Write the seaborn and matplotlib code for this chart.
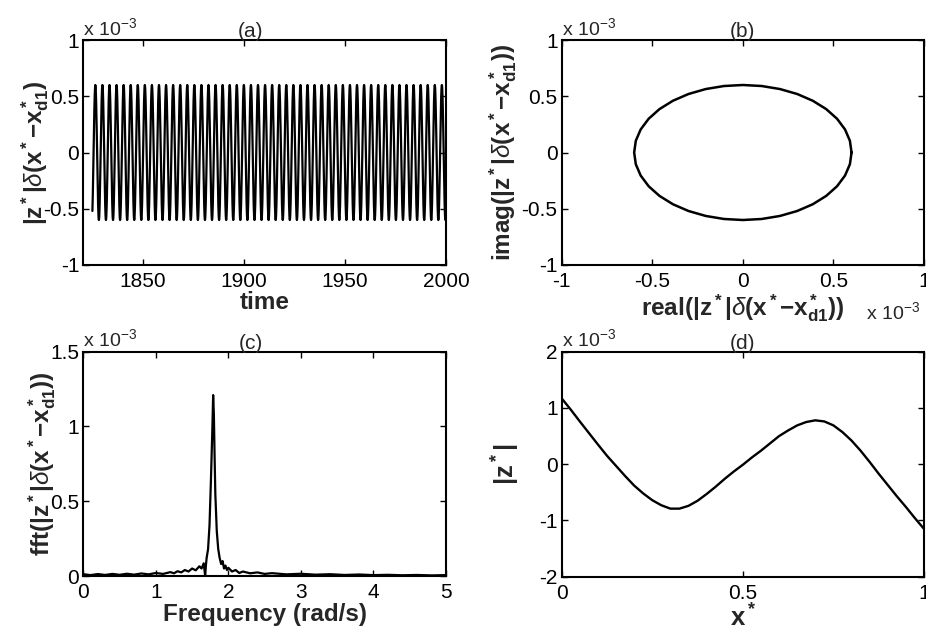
import numpy as np
import pandas as pd
import matplotlib
matplotlib.use("Agg")
import matplotlib.pyplot as plt
import seaborn as sns

# ---------------- data (values in units of 1e-3 where noted) ----------------
SCALE_LABEL = r"x 10$^{\mathregular{-3}}$"

# one period of the steady-state oscillation (a)/(b) (x 1e-3), 10-degree steps
cycle_real = [0.600, 0.591, 0.564, 0.520, 0.460, 0.386, 0.300, 0.205, 0.104,
              0.000, -0.104, -0.205, -0.300, -0.386, -0.460, -0.520, -0.564, -0.591,
              -0.600, -0.591, -0.564, -0.520, -0.460, -0.386, -0.300, -0.205, -0.104,
              0.000, 0.104, 0.205, 0.300, 0.386, 0.460, 0.520, 0.564, 0.591]
cycle_imag = [0.000, 0.104, 0.205, 0.300, 0.386, 0.460, 0.520, 0.564, 0.591,
              0.600, 0.591, 0.564, 0.520, 0.460, 0.386, 0.300, 0.205, 0.104,
              0.000, -0.104, -0.205, -0.300, -0.386, -0.460, -0.520, -0.564, -0.591,
              -0.600, -0.591, -0.564, -0.520, -0.460, -0.386, -0.300, -0.205, -0.104]
t_start = 1825.0
t_end = 2000.0
n_cycles = 50
start_index = 21          # the trace begins near -0.5 and rising

# panel (c): spectrum (x 1e-3)
freq_c = [0.0, 0.1, 0.2, 0.3, 0.4, 0.5, 0.6, 0.7, 0.8, 0.9, 1.0, 1.1, 1.2, 1.25, 1.3, 1.35, 1.4, 1.45,
          1.5, 1.55, 1.6, 1.63, 1.66, 1.68, 1.69, 1.7, 1.72, 1.74, 1.76, 1.78, 1.79, 1.80, 1.81, 1.82,
          1.84, 1.86, 1.88, 1.9, 1.92, 1.94, 1.96, 1.98, 2.0, 2.05, 2.1, 2.15, 2.2, 2.3, 2.4, 2.5, 2.6,
          2.8, 3.0, 3.2, 3.4, 3.6, 3.8, 4.0, 4.2, 4.4, 4.6, 4.8, 5.0]
fft_c = [0.012, 0.006, 0.013, 0.007, 0.014, 0.008, 0.015, 0.009, 0.017, 0.011, 0.020, 0.014, 0.026,
         0.018, 0.032, 0.024, 0.040, 0.030, 0.050, 0.038, 0.065, 0.050, 0.085, 0.000, 0.070, 0.120,
         0.180, 0.340, 0.650, 1.000, 1.210, 1.080, 0.800, 0.550, 0.300, 0.180, 0.120, 0.080, 0.100,
         0.050, 0.070, 0.040, 0.055, 0.030, 0.040, 0.020, 0.030, 0.018, 0.024, 0.014, 0.019, 0.011,
         0.015, 0.009, 0.012, 0.007, 0.010, 0.006, 0.008, 0.005, 0.007, 0.004, 0.006]

# panel (d): |z*| along x* (x 1e-3)
x_d = [0.0, 0.025, 0.05, 0.075, 0.10, 0.125, 0.15, 0.175, 0.20, 0.225, 0.25, 0.275, 0.30, 0.325,
       0.35, 0.375, 0.40, 0.425, 0.45, 0.475, 0.50, 0.525, 0.55, 0.575, 0.60, 0.625, 0.65, 0.675,
       0.70, 0.725, 0.75, 0.775, 0.80, 0.825, 0.85, 0.875, 0.90, 0.925, 0.95, 0.975, 1.0]
z_d = [1.17, 0.97, 0.76, 0.555, 0.35, 0.15, -0.03, -0.21, -0.38, -0.52, -0.64, -0.73, -0.79, -0.79,
       -0.74, -0.65, -0.53, -0.40, -0.26, -0.13, -0.01, 0.12, 0.24, 0.37, 0.50, 0.60, 0.69, 0.75,
       0.78, 0.76, 0.69, 0.57, 0.42, 0.24, 0.04, -0.17, -0.37, -0.57, -0.76, -0.96, -1.15]

# ---------------- build tables ----------------
rolled = cycle_real[start_index:] + cycle_real[:start_index]
y_a = np.array(rolled * n_cycles + [rolled[0]])
t_a = np.linspace(t_start, t_end, len(y_a))
df_a = pd.DataFrame({"t": t_a, "v": y_a})
df_b = pd.DataFrame({"re": cycle_real + [cycle_real[0]], "im": cycle_imag + [cycle_imag[0]]})
df_c = pd.DataFrame({"f": freq_c, "a": fft_c})
df_d = pd.DataFrame({"x": x_d, "z": z_d})

# ---------------- style ----------------
sns.set_theme(style="ticks")
plt.rcParams["font.family"] = ["Liberation Sans", "DejaVu Sans"]
plt.rcParams["mathtext.fontset"] = "custom"
plt.rcParams["mathtext.rm"] = "Liberation Sans"
plt.rcParams["mathtext.it"] = "Liberation Sans:italic"
plt.rcParams["mathtext.bf"] = "Liberation Sans:bold"
plt.rcParams["axes.unicode_minus"] = False
plt.rcParams["axes.linewidth"] = 1.5
plt.rcParams["axes.edgecolor"] = "black"

TICK = 15
LAB = 17.5
TIT = 15
OFF = 14

fig = plt.figure(figsize=(9.26, 6.32), dpi=100)
W, H = 926.0, 632.0


def make_ax(l, r, t, b):
    return fig.add_axes([l / W, 1 - b / H, (r - l) / W, (b - t) / H])


ax_a = make_ax(83.3, 446, 40, 265)
ax_b = make_ax(561.7, 924, 40, 265)
ax_c = make_ax(83.3, 446, 351.7, 576)
ax_d = make_ax(561.7, 924, 351.7, 576.7)

sns.lineplot(data=df_a, x="t", y="v", ax=ax_a, color="black", lw=1.6, estimator=None, sort=False)
sns.lineplot(data=df_b, x="re", y="im", ax=ax_b, color="black", lw=1.8, estimator=None, sort=False)
sns.lineplot(data=df_c, x="f", y="a", ax=ax_c, color="black", lw=1.6, estimator=None, sort=False)
sns.lineplot(data=df_d, x="x", y="z", ax=ax_d, color="black", lw=1.7, estimator=None, sort=False)

ylab_a = r"$\mathregular{|z^*|}\delta\mathregular{(x^*{-}x^*_{d1})}$"
ylab_b = r"$\mathregular{imag(|z^*|}\delta\mathregular{(x^*{-}x^*_{d1}))}$"
xlab_b = r"$\mathregular{real(|z^*|}\delta\mathregular{(x^*{-}x^*_{d1}))}$"
ylab_c = r"$\mathregular{fft(|z^*|}\delta\mathregular{(x^*{-}x^*_{d1}))}$"
LW = "bold"
LEFT_TITLE_X = 0.462

ax_a.set_xlim(1820.5, 2000)
ax_a.set_ylim(-1, 1)
ax_a.set_xticks([1850, 1900, 1950, 2000])
ax_a.set_yticks([-1, -0.5, 0, 0.5, 1])
ax_a.set_yticklabels(["-1", "-0.5", "0", "0.5", "1"])
ax_a.set_xlabel("time", fontsize=LAB, fontweight=LW, labelpad=0)
ax_a.set_ylabel(ylab_a, fontsize=LAB, fontweight=LW, labelpad=-6)
ax_a.set_title("(a)", fontsize=TIT, pad=2, x=LEFT_TITLE_X)

ax_b.set_xlim(-1, 1)
ax_b.set_ylim(-1, 1)
ax_b.set_xticks([-1, -0.5, 0, 0.5, 1])
ax_b.set_xticklabels(["-1", "-0.5", "0", "0.5", "1"])
ax_b.set_yticks([-1, -0.5, 0, 0.5, 1])
ax_b.set_yticklabels(["-1", "-0.5", "0", "0.5", "1"])
ax_b.set_xlabel(xlab_b, fontsize=LAB, fontweight=LW, labelpad=1)
ax_b.set_ylabel(ylab_b, fontsize=LAB, fontweight=LW, labelpad=2)
ax_b.set_title("(b)", fontsize=TIT, pad=2)

ax_c.set_xlim(0, 5)
ax_c.set_ylim(0, 1.5)
ax_c.set_xticks([0, 1, 2, 3, 4, 5])
ax_c.set_yticks([0, 0.5, 1, 1.5])
ax_c.set_yticklabels(["0", "0.5", "1", "1.5"])
ax_c.set_xlabel("Frequency (rad/s)", fontsize=LAB, fontweight=LW, labelpad=1)
ax_c.set_ylabel(ylab_c, fontsize=LAB, fontweight=LW, labelpad=-6)
ax_c.set_title("(c)", fontsize=TIT, pad=2, x=LEFT_TITLE_X)

ax_d.set_xlim(0, 1)
ax_d.set_ylim(-2, 2)
ax_d.set_xticks([0, 0.5, 1])
ax_d.set_xticklabels(["0", "0.5", "1"])
ax_d.set_yticks([-2, -1, 0, 1, 2])
ax_d.set_xlabel(r"$\mathregular{x^*}$", fontsize=LAB + 1, fontweight=LW, labelpad=1)
ax_d.set_ylabel(r"$\mathregular{|z^*|}$", fontsize=LAB + 1, fontweight=LW, labelpad=12)
ax_d.set_title("(d)", fontsize=TIT, pad=2)

for ax in (ax_a, ax_b, ax_c, ax_d):
    ax.tick_params(direction="in", length=4, width=1.0, labelsize=TICK, pad=5,
                   top=True, right=True, colors="black")
    ax.tick_params(axis="y", pad=3)
    for s in ax.spines.values():
        s.set_visible(True)
        s.set_color("black")
    ax.set_facecolor("white")

# MATLAB-style exponent labels
for ax in (ax_a, ax_b, ax_c, ax_d):
    ax.text(0.0, 1.005, SCALE_LABEL, transform=ax.transAxes, ha="left", va="bottom", fontsize=OFF)
ax_b.text(0.84, -0.21, SCALE_LABEL, transform=ax_b.transAxes, ha="left", va="center", fontsize=OFF)

fig.savefig("out.png", dpi=100, facecolor="white")
